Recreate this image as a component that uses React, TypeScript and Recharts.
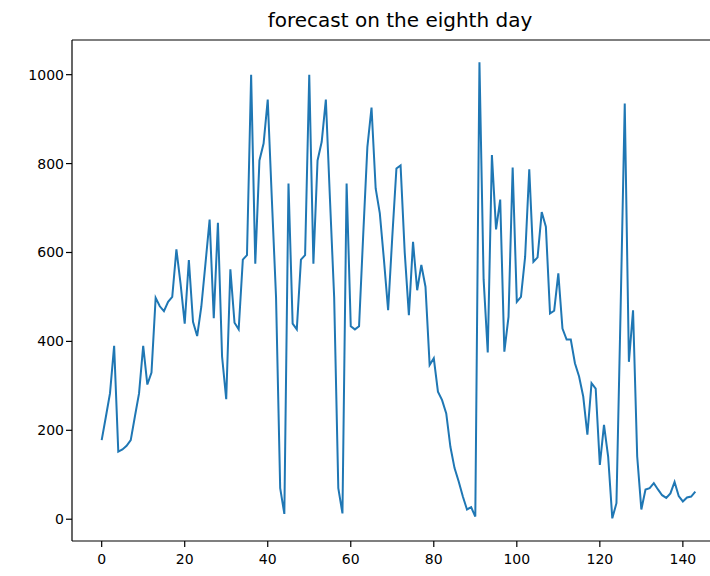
import React from 'react';
import { LineChart, Line, XAxis, YAxis, ReferenceLine } from 'recharts';

const title = 'forecast on the eighth day';

const values: number[] = [
  178, 230, 283, 390, 152, 157, 165, 178, 231, 283,
  390, 303, 330, 498, 479, 468, 489, 500, 607, 530,
  440, 583, 444, 412, 478, 575, 674, 452, 667, 366,
  270, 562, 442, 427, 584, 594, 1000, 575, 807, 845,
  944, 718, 500, 70, 12, 755, 440, 427, 584, 594,
  1000, 575, 807, 849, 944, 718, 500, 70, 13, 755,
  434, 427, 434, 640, 837, 926, 744, 688, 583, 470,
  635, 789, 796, 600, 459, 624, 515, 572, 523, 347,
  362, 287, 268, 238, 163, 115, 85, 51, 22, 27,
  6, 1028, 540, 375, 819, 652, 719, 377, 455, 791,
  489, 500, 590, 787, 579, 589, 691, 658, 463, 469,
  553, 429, 404, 404, 351, 321, 276, 190, 306, 294,
  122, 212, 141, 2, 36, 470, 935, 354, 470, 141,
  22, 67, 70, 81, 67, 54, 48, 58, 84, 52,
  40, 49, 51, 62,
];

const xTicks = [0, 20, 40, 60, 80, 100, 120, 140];
const yTicks = [0, 200, 400, 600, 800, 1000];
const xDomain: [number, number] = [-7.15, 150.15];
const yDomain: [number, number] = [-49, 1078];

const data = values.map((v, i) => ({ x: i, y: v }));

const font = '"DejaVu Sans", sans-serif';
const tickStyle = { fontSize: 14, fill: '#000', fontFamily: font };

export default function App() {
  return (
    <div
      style={{
        position: 'absolute',
        left: 0,
        top: 0,
        width: 710,
        height: 576,
        overflow: 'hidden',
        background: '#fff',
      }}
    >
      <div
        style={{
          position: 'absolute',
          left: 0,
          width: 800,
          top: 8,
          textAlign: 'center',
          fontFamily: font,
          fontSize: 20,
          color: '#000',
          whiteSpace: 'nowrap',
        }}
      >
        {title}
      </div>
      <LineChart
        width={740}
        height={576}
        data={data}
        margin={{ top: 40, right: 15, bottom: 5, left: 0 }}
      >
        <XAxis
          type="number"
          dataKey="x"
          domain={xDomain}
          ticks={xTicks}
          allowDataOverflow
          height={30}
          tick={tickStyle}
          stroke="#000"
          strokeWidth={1.2}
          tickSize={6}
          tickMargin={7}
        />
        <YAxis
          type="number"
          domain={yDomain}
          ticks={yTicks}
          allowDataOverflow
          width={72}
          tick={tickStyle}
          stroke="#000"
          strokeWidth={1.2}
          tickSize={6}
        />
        <ReferenceLine y={yDomain[1]} stroke="#000" strokeWidth={1.2} />
        <Line
          type="linear"
          dataKey="y"
          stroke="#1f77b4"
          strokeWidth={2}
          dot={false}
          isAnimationActive={false}
        />
      </LineChart>
    </div>
  );
}
